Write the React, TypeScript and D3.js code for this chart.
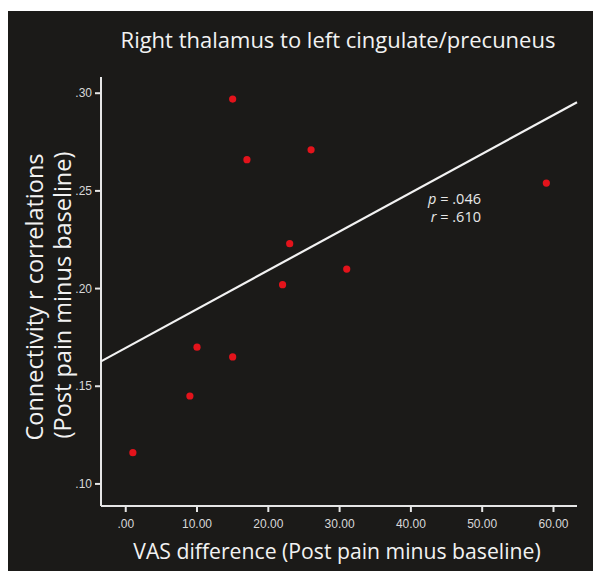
import React from "react";
import * as d3 from "d3";

const vasDiff = [15, 17, 26, 23, 31, 22, 10, 15, 9, 1, 59];
const connectivity = [0.297, 0.266, 0.271, 0.223, 0.21, 0.202, 0.17, 0.165, 0.145, 0.116, 0.254];
const xTicks = [0, 10, 20, 30, 40, 50, 60];
const xTickLabels = [".00", "10.00", "20.00", "30.00", "40.00", "50.00", "60.00"];
const yTicks = [0.1, 0.15, 0.2, 0.25, 0.3];
const yTickLabels = [".10", ".15", ".20", ".25", ".30"];
const title = "Right thalamus to left cingulate/precuneus";
const xLabel = "VAS difference (Post pain minus baseline)";
const yLabel1 = "Connectivity r correlations";
const yLabel2 = "(Post pain minus baseline)";
const stats = [
  { sym: "p", val: " = .046" },
  { sym: "r", val: " = .610" },
];

const W = 593;
const H = 571;
const plot = { left: 101, right: 577, top: 77, bottom: 506 };

export default function App() {
  const x = d3.scaleLinear().domain([-3.47, 63.3]).range([plot.left, plot.right]);
  const y = d3.scaleLinear().domain([0.0887, 0.3083]).range([plot.bottom, plot.top]);

  const mx = d3.mean(vasDiff) as number;
  const my = d3.mean(connectivity) as number;
  let sxy = 0;
  let sxx = 0;
  vasDiff.forEach((v, i) => {
    sxy += (v - mx) * (connectivity[i] - my);
    sxx += (v - mx) * (v - mx);
  });
  const slope = sxy / sxx;
  const intercept = my - slope * mx;
  const [x0, x1] = x.domain();
  const fitLine = d3.line<number>()
    .x((d) => x(d))
    .y((d) => y(intercept + slope * d));

  const textFont = "'Open Sans', 'Noto Sans', sans-serif";
  const tickFont = "'Liberation Sans', Arial, sans-serif";
  const axisColor = "#e6e6e6";

  return (
    <svg width={W} height={H} style={{ position: "absolute", left: 0, top: 0, background: "#ffffff" }}>
      <rect x={8} y={11} width={W - 8} height={H - 11} fill="#1b1a18" />
      <text x={338} y={48} textAnchor="middle" fill="#f2f2f2" fontFamily={textFont} fontSize={22}>
        {title}
      </text>

      {/* axes */}
      <line x1={plot.left} x2={plot.left} y1={plot.top} y2={plot.bottom} stroke={axisColor} strokeWidth={2} />
      <line x1={plot.left} x2={plot.right} y1={plot.bottom} y2={plot.bottom} stroke={axisColor} strokeWidth={2} />

      {yTicks.map((t, i) => (
        <g key={"y" + i}>
          <line x1={plot.left - 6} x2={plot.left} y1={y(t)} y2={y(t)} stroke={axisColor} strokeWidth={2} />
          <text x={plot.left - 9} y={y(t)} dy="0.35em" textAnchor="end" fill="#d8d8d8" fontFamily={tickFont} fontSize={12}>
            {yTickLabels[i]}
          </text>
        </g>
      ))}
      {xTicks.map((t, i) => (
        <g key={"x" + i}>
          <line x1={x(t)} x2={x(t)} y1={plot.bottom} y2={plot.bottom + 6} stroke={axisColor} strokeWidth={2} />
          <text x={x(t)} y={528} textAnchor="middle" fill="#d8d8d8" fontFamily={tickFont} fontSize={12}>
            {xTickLabels[i]}
          </text>
        </g>
      ))}

      {/* fit line */}
      <path d={fitLine([x0, x1]) || ""} stroke="#f2f2f2" strokeWidth={2.2} fill="none" />

      {/* points */}
      {vasDiff.map((v, i) => (
        <circle key={"p" + i} cx={x(v)} cy={y(connectivity[i])} r={3.6} fill="#e3131b" />
      ))}

      {/* stats */}
      {stats.map((s, i) => (
        <text key={"s" + i} x={481} y={204 + i * 18} textAnchor="end" fill="#e8e8e8" fontFamily={textFont} fontSize={14.5}>
          <tspan fontStyle="italic">{s.sym}</tspan>
          {s.val}
        </text>
      ))}

      {/* axis labels */}
      <text x={337} y={559} textAnchor="middle" fill="#f2f2f2" fontFamily={textFont} fontSize={21.2}>
        {xLabel}
      </text>
      <text transform="translate(43,297) rotate(-90)" textAnchor="middle" fill="#f2f2f2" fontFamily={textFont} fontSize={23.5}>
        {yLabel1}
      </text>
      <text transform="translate(71,295) rotate(-90)" textAnchor="middle" fill="#f2f2f2" fontFamily={textFont} fontSize={23.5}>
        {yLabel2}
      </text>
    </svg>
  );
}
